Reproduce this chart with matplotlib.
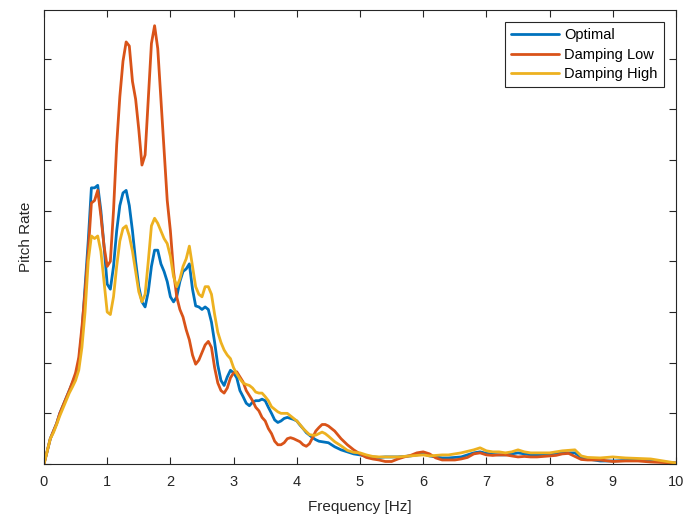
import matplotlib
matplotlib.use('Agg')
import matplotlib.pyplot as plt
import numpy as np

plt.rcParams['font.family'] = ['Liberation Sans', 'DejaVu Sans']

# frequency grid [Hz]
freq = [0.00, 0.05, 0.10, 0.15, 0.20, 0.25, 0.30, 0.35, 0.40, 0.45,
        0.50, 0.55, 0.60, 0.65, 0.70, 0.75, 0.80, 0.85, 0.90, 0.95,
        1.00, 1.05, 1.10, 1.15, 1.20, 1.25, 1.30, 1.35, 1.40, 1.45,
        1.50, 1.55, 1.60, 1.65, 1.70, 1.75, 1.80, 1.85, 1.90, 1.95,
        2.00, 2.05, 2.10, 2.15, 2.20, 2.25, 2.30, 2.35, 2.40, 2.45,
        2.50, 2.55, 2.60, 2.65, 2.70, 2.75, 2.80, 2.85, 2.90, 2.95,
        3.00, 3.05, 3.10, 3.15, 3.20, 3.25, 3.30, 3.35, 3.40, 3.45,
        3.50, 3.55, 3.60, 3.65, 3.70, 3.75, 3.80, 3.85, 3.90, 3.95,
        4.00, 4.05, 4.10, 4.15, 4.20, 4.25, 4.30, 4.35, 4.40, 4.45,
        4.50,
        4.6, 4.7, 4.8, 4.9, 5.0,
        5.1, 5.2, 5.3, 5.4, 5.5, 5.6, 5.7, 5.8, 5.9, 6.0,
        6.1, 6.2, 6.3, 6.4, 6.5, 6.6, 6.7, 6.8, 6.9, 7.0,
        7.1, 7.2, 7.3, 7.4, 7.5, 7.6, 7.7, 7.8, 7.9, 8.0,
        8.1, 8.2, 8.3, 8.4, 8.5, 8.6,
        8.8, 9.0, 9.2, 9.4, 9.6, 9.8, 10.0]

optimal = [0, 0.25, 0.5, 0.65, 0.8, 1.0, 1.15, 1.3, 1.45, 1.6,
           1.75, 2.0, 2.6, 3.5, 4.4, 5.45, 5.45, 5.5, 5.0, 4.3,
           3.55, 3.45, 3.9, 4.6, 5.1, 5.35, 5.4, 5.1, 4.6, 4.0,
           3.5, 3.2, 3.1, 3.4, 3.9, 4.22, 4.22, 3.95, 3.8, 3.6,
           3.3, 3.2, 3.3, 3.6, 3.8, 3.85, 3.95, 3.45, 3.12, 3.1,
           3.05, 3.1, 3.05, 2.8, 2.4, 1.95, 1.65, 1.55, 1.72, 1.85,
           1.8, 1.7, 1.45, 1.33, 1.2, 1.15, 1.22, 1.25, 1.25, 1.28,
           1.25, 1.12, 1.0, 0.87, 0.82, 0.85, 0.9, 0.92, 0.9, 0.88,
           0.85, 0.77, 0.7, 0.62, 0.57, 0.52, 0.48, 0.45, 0.44, 0.43,
           0.42,
           0.34, 0.28, 0.24, 0.2, 0.18,
           0.15, 0.14, 0.13, 0.14, 0.14, 0.14, 0.15, 0.16, 0.18, 0.2,
           0.16, 0.14, 0.12, 0.12, 0.13, 0.14, 0.18, 0.22, 0.24, 0.21,
           0.19, 0.18, 0.18, 0.2, 0.22, 0.2, 0.18, 0.18, 0.19, 0.2,
           0.21, 0.22, 0.22, 0.22, 0.13, 0.1,
           0.06, 0.06, 0.07, 0.08, 0.06, 0.04, 0.02]

damping_low = [0, 0.25, 0.5, 0.65, 0.8, 1.0, 1.15, 1.3, 1.45, 1.62,
               1.8, 2.1, 2.7, 3.4, 4.2, 5.15, 5.2, 5.4, 4.9, 4.3,
               3.9, 4.0, 5.0, 6.3, 7.25, 7.95, 8.33, 8.25, 7.55, 7.2,
               6.6, 5.9, 6.1, 7.2, 8.3, 8.65, 8.2, 7.2, 6.2, 5.2,
               4.6, 3.8, 3.3, 3.05, 2.9, 2.65, 2.45, 2.15, 1.97, 2.05,
               2.2, 2.35, 2.42, 2.3, 1.9, 1.6, 1.45, 1.4, 1.5, 1.7,
               1.8, 1.82, 1.72, 1.62, 1.45, 1.35, 1.25, 1.12, 1.05, 0.92,
               0.85, 0.7, 0.6, 0.45, 0.38, 0.38, 0.42, 0.5, 0.52, 0.5,
               0.47, 0.44, 0.38, 0.35, 0.4, 0.52, 0.65, 0.72, 0.78, 0.78,
               0.75,
               0.65, 0.5, 0.38, 0.28, 0.2,
               0.13, 0.1, 0.08, 0.05, 0.05, 0.1, 0.14, 0.17, 0.22, 0.24,
               0.2, 0.12, 0.08, 0.08, 0.08, 0.1, 0.13, 0.2, 0.22, 0.18,
               0.17, 0.18, 0.18, 0.16, 0.14, 0.15, 0.14, 0.14, 0.15, 0.16,
               0.17, 0.2, 0.21, 0.15, 0.09, 0.08,
               0.08, 0.05, 0.06, 0.06, 0.04, 0.03, 0.02]

damping_high = [0, 0.25, 0.5, 0.62, 0.78, 0.95, 1.1, 1.25, 1.4, 1.52,
                1.65, 1.85, 2.3, 3.0, 4.0, 4.5, 4.45, 4.5, 4.2, 3.6,
                3.0, 2.95, 3.3, 3.9, 4.4, 4.65, 4.7, 4.5, 4.2, 3.8,
                3.4, 3.2, 3.35, 4.0, 4.7, 4.85, 4.75, 4.6, 4.45, 4.35,
                4.1, 3.7, 3.5, 3.65, 3.9, 4.05, 4.3, 3.9, 3.5, 3.35,
                3.3, 3.5, 3.5, 3.35, 2.95, 2.6, 2.4, 2.25, 2.15, 2.08,
                1.9, 1.78, 1.68, 1.6, 1.57, 1.55, 1.5, 1.42, 1.4, 1.4,
                1.33, 1.25, 1.13, 1.08, 1.03, 1.0, 1.0, 1.0, 0.95, 0.9,
                0.85, 0.78, 0.7, 0.64, 0.58, 0.57, 0.57, 0.6, 0.63, 0.6,
                0.55,
                0.44, 0.36, 0.27, 0.23, 0.22,
                0.18, 0.15, 0.14, 0.14, 0.14, 0.14, 0.15, 0.16, 0.17, 0.18,
                0.16, 0.17, 0.18, 0.18, 0.2, 0.22, 0.25, 0.28, 0.32, 0.26,
                0.24, 0.24, 0.22, 0.24, 0.28, 0.24, 0.22, 0.22, 0.22, 0.22,
                0.24, 0.26, 0.27, 0.28, 0.16, 0.13,
                0.12, 0.14, 0.12, 0.11, 0.1, 0.06, 0.02]

labels = ['Optimal', 'Damping Low', 'Damping High']
colors = ['#0072BD', '#D95319', '#EDB120']

fig = plt.figure(figsize=(6.96, 5.18), dpi=100)
ax = fig.add_axes([0.0632, 0.1042, 0.9081, 0.8765])

for vals, lab, col in zip([optimal, damping_low, damping_high], labels, colors):
    ax.plot(freq, vals, color=col, lw=2.0, label=lab,
            solid_joinstyle='round', solid_capstyle='round')

ax.set_xlim(0, 10)
ax.set_ylim(0, 8.96)
ax.set_xticks(np.arange(0, 11, 1))
ax.set_yticks(np.arange(0, 9, 1))
ax.set_yticklabels([])
ax.tick_params(direction='in', length=5, width=0.8, top=True, right=True,
               colors='#262626', labelsize=10.5, pad=8)
for sp in ax.spines.values():
    sp.set_color('#262626')
    sp.set_linewidth(0.8)

ax.set_xlabel('Frequency [Hz]', fontsize=11, color='#262626', labelpad=8)
ax.set_ylabel('Pitch Rate', fontsize=11, color='#262626', labelpad=0)

leg = ax.legend(loc='upper right', fontsize=10.5, fancybox=False, framealpha=1,
                edgecolor='#262626', handlelength=3.3, borderaxespad=0.85,
                labelspacing=0.38, handletextpad=0.35, borderpad=0.4)
leg.get_frame().set_linewidth(0.8)

fig.savefig('out.png', dpi=100)
plt.close(fig)
